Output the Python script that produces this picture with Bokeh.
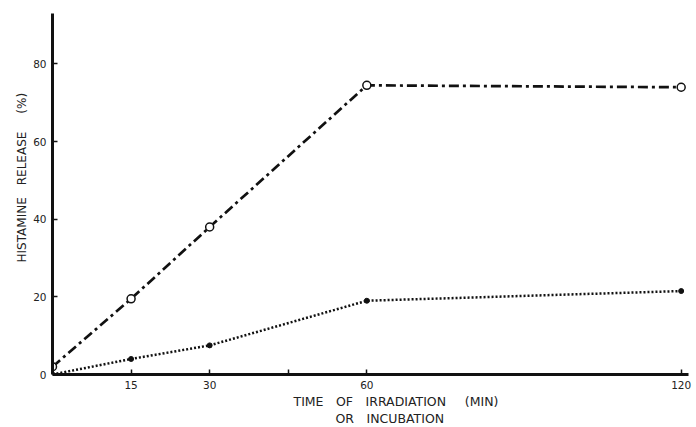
from bokeh.plotting import figure
from bokeh.models import Range1d, FixedTicker, Title
from bokeh.embed import file_html
from bokeh.resources import INLINE

time_min = [0, 15, 30, 60, 120]
irradiation = [2, 19.5, 38, 74.5, 74]
incubation = [0, 4, 7.5, 19, 21.5]
x_ticks = [15, 30, 45, 60, 120]
x_tick_labels = {15: "15", 30: "30", 45: "", 60: "60", 120: "120"}
y_ticks = [0, 20, 40, 60, 80]

FONT = "DejaVu Sans"
EM = "\u2003"
EN = "\u2002"

p = figure(width=694, height=425, output_backend="svg", toolbar_location=None,
           x_range=Range1d(0, 121.4), y_range=Range1d(0, 93),
           min_border_left=52, min_border_right=6, min_border_top=13, min_border_bottom=51)
p.outline_line_color = None
p.xgrid.visible = False
p.ygrid.visible = False
p.background_fill_color = "white"

for ax in (p.xaxis[0], p.yaxis[0]):
    ax.axis_line_width = 3
    ax.axis_line_color = "#111111"
    ax.major_tick_in = 5
    ax.major_tick_out = 0
    ax.major_tick_line_width = 1.5
    ax.major_tick_line_color = "#111111"
    ax.minor_tick_line_color = None
    ax.major_label_text_font = FONT
    ax.major_label_text_font_size = "10.5px"
    ax.major_label_text_color = "#222222"

p.xaxis.ticker = FixedTicker(ticks=x_ticks)
p.xaxis.major_label_overrides = x_tick_labels
p.xaxis.major_label_standoff = 6
p.yaxis.ticker = FixedTicker(ticks=y_ticks)
p.yaxis.major_label_standoff = 6

p.line(time_min, irradiation, line_color="#111111", line_width=2.7, line_dash="10 4 3 4")
p.scatter(time_min, irradiation, marker="circle", size=8, fill_color="white",
          line_color="#111111", line_width=1.5)
p.line(time_min, incubation, line_color="#111111", line_width=2.5, line_dash="2 2")
p.scatter(time_min, incubation, marker="circle", size=5, fill_color="#111111",
          line_color="#111111")

xt1 = Title(text=f"TIME{EM}OF{EM}IRRADIATION{EM}{EN}(MIN)", align="left", offset=241,
            text_font=FONT, text_font_size="12.5px", text_font_style="normal",
            text_color="#222222", standoff=0)
xt2 = Title(text=f"OR{EM}INCUBATION", align="left", offset=283,
            text_font=FONT, text_font_size="12.5px", text_font_style="normal",
            text_color="#222222", standoff=0)
p.add_layout(xt1, "below")
p.add_layout(xt2, "below")

yt = Title(text=f"HISTAMINE{EM}RELEASE{EM}{EN}(%)", align="left", offset=112,
           text_font=FONT, text_font_size="12px", text_font_style="normal",
           text_color="#222222", standoff=4)
p.add_layout(yt, "left")

open("out.html", "w").write(file_html(p, INLINE))
